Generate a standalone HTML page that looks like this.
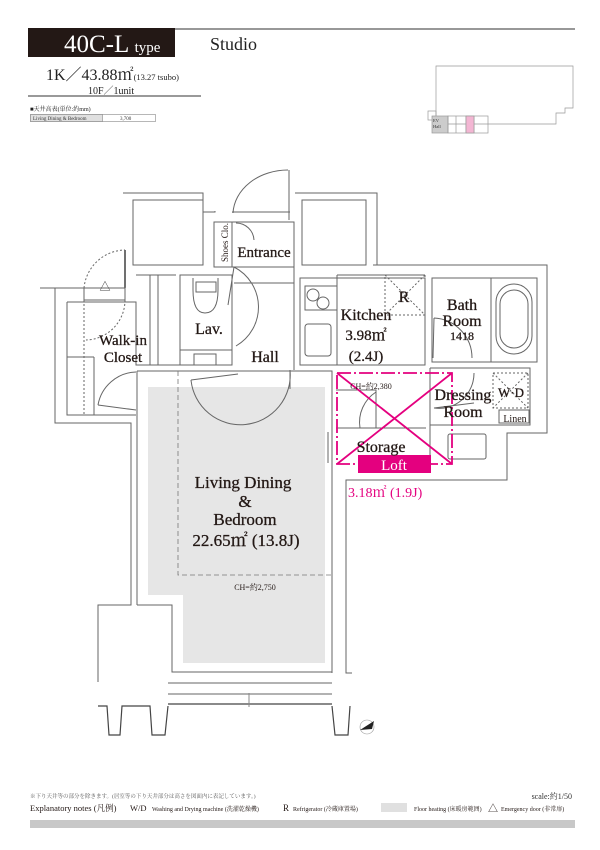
<!DOCTYPE html>
<html><head><meta charset="utf-8"><style>
body{margin:0;background:#fff;}
svg{display:block;font-family:"Liberation Serif","Noto Serif CJK SC",serif;}
</style></head><body>
<svg width="600" height="850" viewBox="0 0 600 850" xmlns="http://www.w3.org/2000/svg">
<!-- header -->
<rect x="28" y="28" width="147" height="29" fill="#231815"/>
<line x1="175" y1="29" x2="575" y2="29" stroke="#777" stroke-width="1.5"/>
<text x="64" y="52" fill="#fff" font-size="25">40C-L <tspan font-size="15">type</tspan></text>
<text x="210" y="50" font-size="18" fill="#222">Studio</text>
<text x="46" y="80" font-size="16" fill="#222">1K／43.88㎡<tspan font-size="8.5">(13.27 tsubo)</tspan></text>
<text x="88" y="94" font-size="10" fill="#222">10F／1unit</text>
<line x1="28" y1="96" x2="201" y2="96" stroke="#333" stroke-width="1"/>
<text x="30" y="111" font-size="6" fill="#222">■天井高表(単位:約mm)</text>
<rect x="30.5" y="114.5" width="125" height="7" fill="none" stroke="#888" stroke-width="0.6"/>
<rect x="30.5" y="114.5" width="72" height="7" fill="#e0e0e0" stroke="#888" stroke-width="0.6"/>
<text x="33" y="120" font-size="5" fill="#333">Living Dining &amp; Bedroom</text>
<text x="120" y="120" font-size="5" fill="#333">3,700</text>
<!-- key plan -->
<g fill="none" stroke="#999" stroke-width="0.7">
<path d="M436 66 H573 V108 H565 V113 H556 V124 H436 Z"/>
<rect x="428" y="111" width="8" height="9"/>
<rect x="432" y="116" width="16" height="17" fill="#ccc"/>
<rect x="448" y="116" width="40" height="17"/>
<line x1="456" y1="116" x2="456" y2="133"/><line x1="466" y1="116" x2="466" y2="133"/><line x1="474" y1="116" x2="474" y2="133"/>
<rect x="466" y="116" width="8" height="17" fill="#f3b6d3"/>
</g>
<text x="433" y="122" font-size="4.5" fill="#333">EV</text><text x="433" y="128" font-size="4.5" fill="#333">Hall</text>

<!-- floor heating -->
<path d="M148 387 H325 V663 H183 V595 H148 Z" fill="#e6e6e6"/>
<!-- plan walls -->
<g fill="none" stroke="#666" stroke-width="1">
<path d="M55 288 V423 H131 V605 H98 V682"/>
<path d="M373 265 H547 V433 H507 V480 H346 V673 H352"/>
<path d="M123 193 H203 V212 H211"/>
<path d="M295 193 H377 V265"/>
<path d="M40 288 H84"/>
<path d="M125 250 V288" stroke="#333" stroke-width="1.4"/>
<path d="M84 288 A42 42 0 0 1 125 250" stroke-dasharray="2,2"/>
<path d="M125 300 A40 40 0 0 1 86 340" stroke-dasharray="2,2"/>
<path d="M133 200 H203 V265 H133 Z"/>
<path d="M302 200 H366 V265 H302 Z"/>
<path d="M211 212 H215 V211 M232 212 H290"/>
<line x1="289" y1="170" x2="289" y2="220"/>
<path d="M233 213 A55 45 0 0 1 288 170"/>
<path d="M214 222 H294 V370"/>
<rect x="214" y="222" width="18" height="45"/>
<line x1="214" y1="267" x2="294" y2="267"/>
<path d="M236 223 A18 18 0 0 1 254 240"/>
<path d="M234 267 L228 305 M234 267 A45 45 0 0 1 236 346"/>
<line x1="234" y1="283" x2="294" y2="283"/>
<path d="M180 275 H232 V365 H180 Z"/>
<line x1="180" y1="350" x2="232" y2="350"/>
<rect x="194" y="354" width="22" height="11"/>
<path d="M193 278 V290 Q193 313 205 313 Q218 313 218 290 V278"/>
<rect x="196" y="282" width="20" height="10"/>
<path d="M67 302 H136 V365 H180"/>
<path d="M67 302 V415 H136"/>
<line x1="150" y1="275" x2="150" y2="365"/><line x1="158" y1="275" x2="158" y2="365"/>
<line x1="136" y1="275" x2="176" y2="275"/>
<line x1="67" y1="357" x2="94" y2="357"/><line x1="94" y1="357" x2="94" y2="415"/>
<rect x="84" y="288" width="41" height="12"/>
<line x1="84" y1="300" x2="84" y2="415" stroke-dasharray="2,2"/>
<path d="M98 405 A40 40 0 0 1 136 372"/><line x1="98" y1="405" x2="136" y2="410"/>
<path d="M137 371 H332 V673"/>
<line x1="137" y1="371" x2="137" y2="605"/>
<path d="M137 605 H172 V672 H332"/>
<line x1="168" y1="683" x2="332" y2="683"/><line x1="168" y1="694" x2="332" y2="694"/>
<path d="M191 380 L238 374 M191 380 A48 48 0 0 0 290 370"/>
<line x1="290" y1="370" x2="290" y2="389"/>
<line x1="328" y1="432" x2="328" y2="463"/>
<path d="M300 278 H425 V365 H300 Z"/>
<line x1="337" y1="275" x2="337" y2="365"/><line x1="337" y1="275" x2="425" y2="275"/>
<rect x="305" y="286" width="32" height="24"/>
<circle cx="313" cy="295" r="6"/><circle cx="323" cy="303" r="6"/>
<rect x="305" y="324" width="26" height="32" rx="3"/>
<rect x="385" y="275" width="40" height="40" stroke-dasharray="2,2"/>
<path d="M385 275 L425 315 M425 275 L385 315" stroke-dasharray="2,2"/>
<path d="M432 278 H537 V362 H432 Z"/>
<line x1="491" y1="278" x2="491" y2="362"/>
<rect x="496" y="284" width="36" height="70" rx="18"/>
<rect x="500" y="290" width="28" height="58" rx="14"/>
<path d="M434 318 L433 358 M472 358 A40 40 0 0 0 434 318"/>
<path d="M430 368 H530 V425 H430"/>
<rect x="493" y="373" width="35" height="35" stroke-dasharray="2,2"/>
<path d="M493 373 L528 408 M528 373 L493 408" stroke-dasharray="2,2"/>
<rect x="499" y="410" width="30" height="13"/>
<line x1="430" y1="368" x2="430" y2="460"/>
<rect x="448" y="434" width="38" height="25" rx="2"/>
<path d="M434 408 L474 403 M474 373 A35 35 0 0 1 434 408"/>
<path d="M336 428 H426 M336 390 H376 V428"/>
<path d="M360 428 A36 36 0 0 1 376 392"/>
</g>
<g fill="none" stroke="#444" stroke-width="1.2">
<path d="M98 706 H107 L109 735 H120 L122 706 H150 L152 735 H165 L168 706"/>
<path d="M332 706 L335 735 H348 L350 706"/>
<line x1="168" y1="704" x2="332" y2="704"/>
</g>
<line x1="249" y1="693" x2="249" y2="707" stroke="#888"/>
<circle cx="367" cy="727" r="7" fill="#fff" stroke="#999" stroke-width="0.6"/>
<path d="M360 730 L374 721 L372 729 Z" fill="#222"/>
<path d="M178 371 V575 H332" fill="none" stroke="#777" stroke-dasharray="5,3" stroke-width="0.8"/>
<rect x="337" y="373" width="115" height="91" fill="none" stroke="#e4007f" stroke-width="1.8" stroke-dasharray="14,3,2,3"/>
<path d="M337 373 L452 464 M452 373 L337 464" stroke="#e4007f" stroke-width="1.8"/>
<rect x="358" y="455" width="73" height="18" fill="#e4007f"/>
<text x="394" y="470" font-size="15" fill="#fff" text-anchor="middle">Loft</text>
<text x="348" y="497" font-size="14" fill="#e4007f">3.18㎡ (1.9J)</text>
<g fill="#231815" text-anchor="middle" stroke="#231815" stroke-width="0.3">
<text x="264" y="257" font-size="15">Entrance</text>
<text x="123" y="345" font-size="15">Walk-in</text>
<text x="123" y="362" font-size="15">Closet</text>
<text x="209" y="334" font-size="16">Lav.</text>
<text x="265" y="362" font-size="16">Hall</text>
<text x="366" y="320" font-size="16">Kitchen</text>
<text x="366" y="340" font-size="15">3.98㎡</text>
<text x="366" y="361" font-size="15">(2.4J)</text>
<text x="404" y="302" font-size="16">R</text>
<text x="462" y="310" font-size="16">Bath</text>
<text x="462" y="326" font-size="16">Room</text>
<text x="462" y="340" font-size="12">1418</text>
<text x="463" y="400" font-size="16">Dressing</text>
<text x="463" y="417" font-size="16">Room</text>
<text x="511" y="397" font-size="13">W·D</text>
<text x="515" y="422" font-size="10" stroke-width="0">Linen</text>
<text x="381" y="452" font-size="16">Storage</text>
<text x="243" y="488" font-size="17">Living Dining</text>
<text x="245" y="507" font-size="17">&amp;</text>
<text x="245" y="525" font-size="17">Bedroom</text>
<text x="246" y="546" font-size="17">22.65㎡ (13.8J)</text>
<text x="255" y="590" font-size="8" stroke-width="0">CH=約2,750</text>
<text x="371" y="389" font-size="8" stroke-width="0">CH=約2,380</text>
</g>
<text x="0" y="0" font-size="9" fill="#231815" transform="translate(228 262) rotate(-90)">Shoes Clo.</text>
<text x="105" y="290" font-size="11" fill="#444" text-anchor="middle">△</text>
<text x="30" y="798" font-size="5.5" fill="#555">※下り天井等の部分を除きます。(居室等の下り天井部分は高さを図面内に表記しています。)</text>
<text x="572" y="799" font-size="8" fill="#333" text-anchor="end">scale:約1/50</text>
<g fill="#231815" font-size="6">
<text x="30" y="811" font-size="8.5">Explanatory notes (凡例)</text>
<text x="130" y="811" font-size="8.5">W/D</text>
<text x="152" y="811">Washing and Drying machine (洗濯乾燥機)</text>
<text x="283" y="811" font-size="9">R</text>
<text x="293" y="811">Refrigerator (冷蔵庫置場)</text>
<rect x="381" y="803" width="26" height="9" fill="#e0e0e0"/>
<text x="414" y="811">Floor heating (床暖房範囲)</text>
<text x="488" y="812" font-size="10">△</text>
<text x="501" y="811">Emergency door (非常扉)</text>
</g>
<rect x="30" y="820" width="545" height="8" fill="#c8c8c8"/>
</svg>
</body></html>
